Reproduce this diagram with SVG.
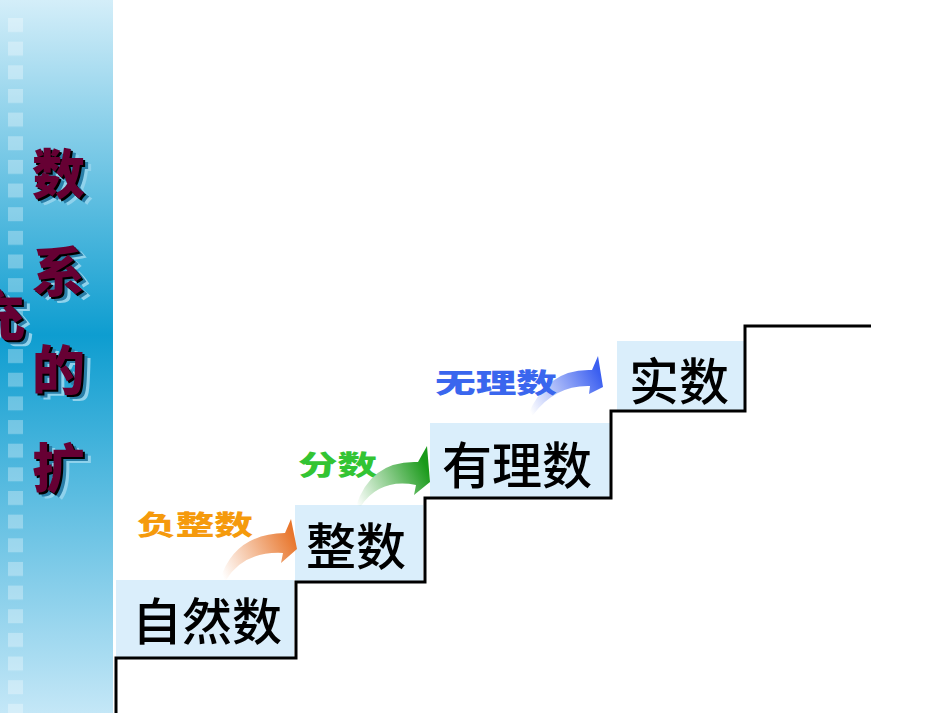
<svg xmlns="http://www.w3.org/2000/svg" width="950" height="713" viewBox="0 0 950 713">
<defs>
<linearGradient id="side" x1="0" y1="0" x2="0" y2="1">
<stop offset="0" stop-color="#d4eef9"/>
<stop offset="0.47" stop-color="#0e9dd0"/>
<stop offset="1" stop-color="#c4e7f7"/>
</linearGradient>
<linearGradient id="gOr" gradientUnits="userSpaceOnUse" x1="222" y1="575" x2="295" y2="540">
<stop offset="0" stop-color="#e8762c" stop-opacity="0"/>
<stop offset="1" stop-color="#e8762c"/>
</linearGradient>
<linearGradient id="gGr" gradientUnits="userSpaceOnUse" x1="357" y1="505" x2="428" y2="470">
<stop offset="0" stop-color="#1a9a1a" stop-opacity="0"/>
<stop offset="1" stop-color="#1a9a1a"/>
</linearGradient>
<linearGradient id="gBl" gradientUnits="userSpaceOnUse" x1="530" y1="412" x2="600" y2="375">
<stop offset="0" stop-color="#3b5ff0" stop-opacity="0"/>
<stop offset="1" stop-color="#3b5ff0"/>
</linearGradient>
<pattern id="sq" x="0" y="18" width="113" height="23.65" patternUnits="userSpaceOnUse">
<rect x="8" y="0" width="15" height="14" fill="#ffffff" fill-opacity="0.3"/>
</pattern>
</defs>
<style>
.title{font-family:"Noto Sans CJK SC","Noto Sans CJK JP",sans-serif;font-size:53px;font-weight:900}
.t1{fill:#8fd2ec}
.t2{fill:#2a7fa8}
.t3{fill:#000000}
.t4{fill:#660033}
.box{fill:#daeefb}
.big{font-family:"Noto Sans CJK SC","Noto Sans CJK JP",sans-serif;font-size:50px;font-weight:500;fill:#000000;text-anchor:middle}
.lbl{font-family:"Noto Sans CJK SC","Noto Sans CJK JP",sans-serif;font-size:27px;font-weight:900}
.stair{fill:none;stroke:#000000;stroke-width:3}
</style>
<rect width="950" height="713" fill="#ffffff"/>
<g id="sidebar">
<rect x="0" y="0" width="113" height="713" fill="url(#side)"/>
<rect x="0" y="18" width="113" height="695" fill="url(#sq)"/>
<g class="title">
<g class="t1" transform="translate(8,6)">
<text x="32" y="194">数</text><text x="32" y="292">系</text><text x="32" y="390">的</text><text x="32" y="488">扩</text><text x="-28" y="336">充</text>
</g>
<g class="t2" transform="translate(5,4)">
<text x="32" y="194">数</text><text x="32" y="292">系</text><text x="32" y="390">的</text><text x="32" y="488">扩</text><text x="-28" y="336">充</text>
</g>
<g class="t3" transform="translate(2,2)">
<text x="32" y="194">数</text><text x="32" y="292">系</text><text x="32" y="390">的</text><text x="32" y="488">扩</text><text x="-28" y="336">充</text>
</g>
<g class="t4">
<text x="32" y="194">数</text><text x="32" y="292">系</text><text x="32" y="390">的</text><text x="32" y="488">扩</text><text x="-28" y="336">充</text>
</g>
</g>
</g>
<g id="step1">
<rect class="box" x="116" y="580" width="178" height="77"/>
<text class="big" x="207" y="640">自然数</text>
</g>
<g id="step2">
<rect class="box" x="295" y="505" width="128" height="76"/>
<text class="big" x="356" y="565">整数</text>
</g>
<g id="step3">
<rect class="box" x="430" y="423" width="180" height="74"/>
<text class="big" x="517" y="484">有理数</text>
</g>
<g id="step4">
<rect class="box" x="617" y="341" width="128" height="70"/>
<text class="big" x="679" y="400">实数</text>
</g>
<g id="stairs">
<path class="stair" d="M116,713 V658 H296 V582 H425 V498 H611 V411 H745 V326 H871"/>
</g>
<g id="connectors">
<path d="M220,580 Q234,534 285,533 L291,519 L297,549 L281,563 L283,553 Q244,551 226,580 Z" fill="url(#gOr)"/>
<path d="M356,506 Q371,460 418,462 L427,446 L430,482 L414,495 L416,485 Q380,478 361,506 Z" fill="url(#gGr)"/>
<path d="M528,415 Q547,368 592,370 L598,356 L603,387 L589,394 L590,386 Q555,385 533,415 Z" fill="url(#gBl)"/>
</g>
<g id="labels">
<text class="lbl" x="137" y="535" fill="#f59a0c" textLength="116" lengthAdjust="spacingAndGlyphs">负整数</text>
<text class="lbl" x="298" y="475" fill="#33c433" textLength="79" lengthAdjust="spacingAndGlyphs">分数</text>
<text class="lbl" x="435" y="393" fill="#3a66ee" textLength="122" lengthAdjust="spacingAndGlyphs">无理数</text>
</g>
</svg>
